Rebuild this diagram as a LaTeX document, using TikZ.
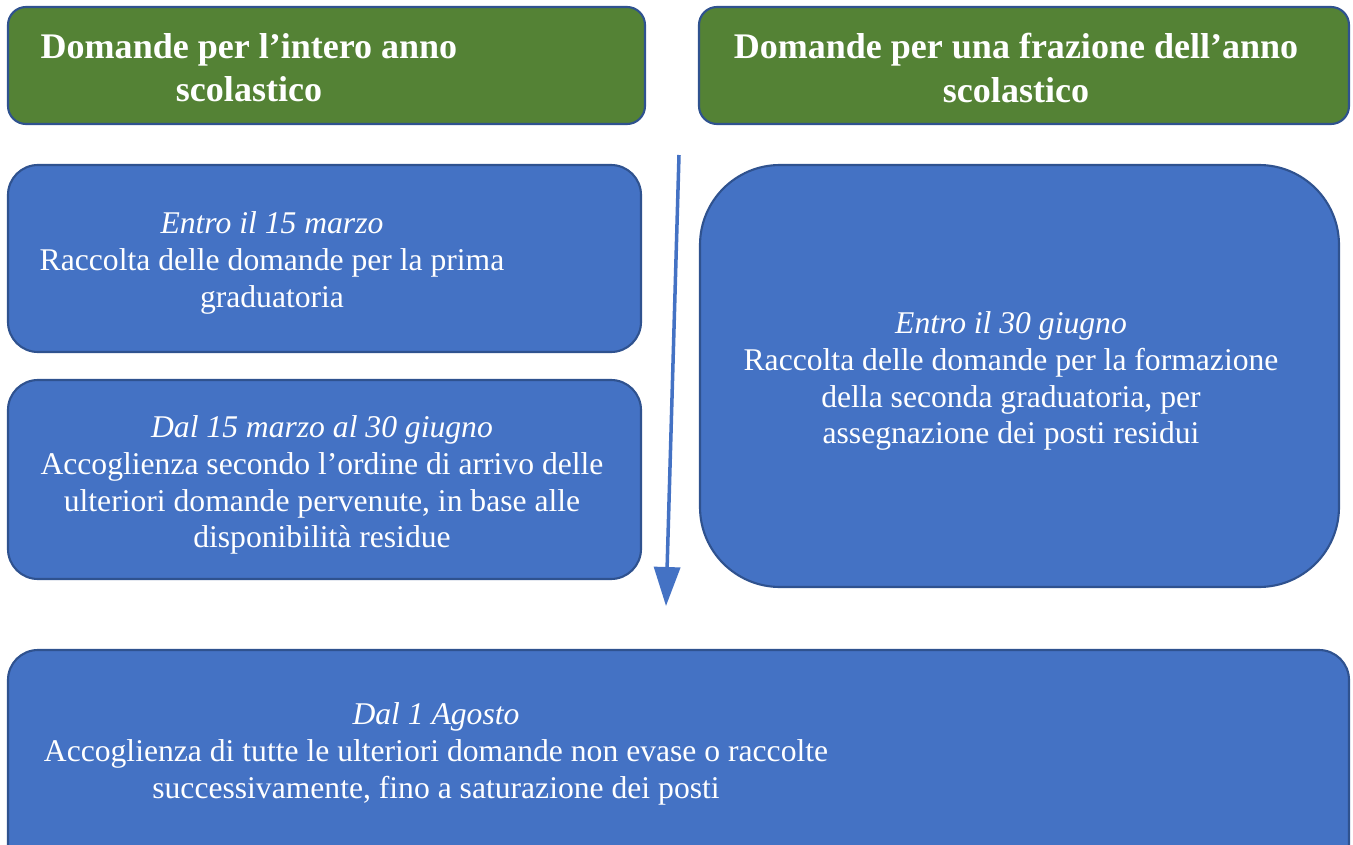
\documentclass[tikz,border=0pt]{standalone}
\usepackage{fontspec}
\setmainfont{Liberation Serif}
\usetikzlibrary{arrows.meta}
\definecolor{boxblue}{HTML}{4472C4}
\definecolor{boxgreen}{HTML}{548235}
\definecolor{edgeblue}{HTML}{2F528F}
\tikzset{
	headbox/.style={draw=edgeblue, line width=1.2pt, fill=boxgreen, rounded corners=0.36cm},
	phasebox/.style={draw=edgeblue, line width=1.2pt, fill=boxblue, rounded corners=0.6cm},
	headtext/.style={text=white, font=\fontsize{20.5}{24.5}\selectfont\bfseries, align=center},
	phasetext/.style={text=white, font=\fontsize{18}{21}\selectfont, align=center}
}
\begin{document}
\begin{tikzpicture}[x=0.02cm, y=-0.02cm]
				\useasboundingbox (0,0) rectangle (1353,845);
				\clip (0,0) rectangle (1353,845);
				\draw[headbox] (8,7) rectangle (645,124);
				\draw[headbox] (699,7) rectangle (1349,124);
				\node[headtext] (intero) at (249,68) {Domande per l’intero anno\\scolastico};
				\node[headtext] (frazione) at (1016,68) {Domande per una frazione dell’anno\\scolastico};
				\draw[phasebox] (8,165) rectangle (641,352);
				\draw[phasebox] (8,380) rectangle (641,579);
				\draw[phasebox, rounded corners=1.6cm] (700,165) rectangle (1339,587);
				\draw[phasebox] (8,650) rectangle (1349,880);
				\node[phasetext] (marzo) at (272,263) {\textit{Entro il 15 marzo}\\Raccolta delle domande per la prima\\graduatoria};
				\node[phasetext] (arrivo) at (322,485) {\textit{Dal 15 marzo al 30 giugno}\\Accoglienza secondo l’ordine di arrivo delle\\ulteriori domande pervenute, in base alle\\disponibilità residue};
				\node[phasetext] (giugno) at (1011,381) {\textit{Entro il 30 giugno}\\Raccolta delle domande per la formazione\\della seconda graduatoria, per\\assegnazione dei posti residui};
				\node[phasetext] (agosto) at (436,754) {\textit{Dal 1 Agosto}\\Accoglienza di tutte le ulteriori domande non evase o raccolte\\successivamente, fino a saturazione dei posti};
				\coordinate (top) at (679,155);
				\coordinate (tip) at (666,606);
				\draw[boxblue, line width=2pt, -{Triangle[width=0.52cm, length=0.78cm]}] (top) -- (tip);
			\end{tikzpicture}
\end{document}
